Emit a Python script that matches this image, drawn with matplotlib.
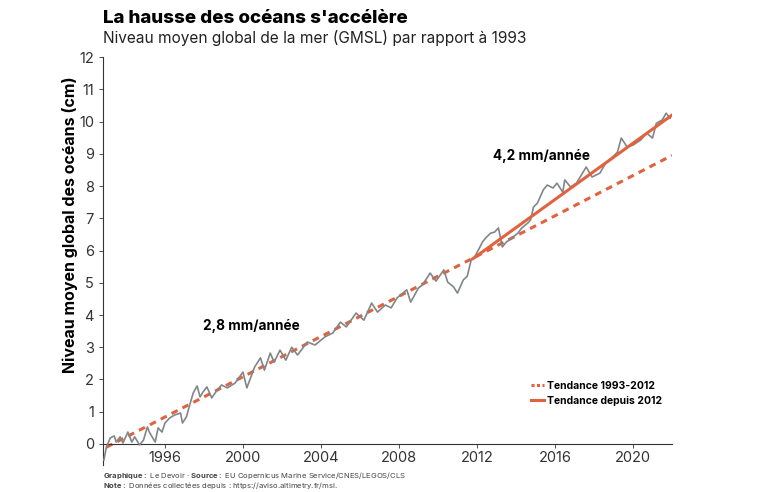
import matplotlib.pyplot as plt
from matplotlib.lines import Line2D

plt.rcParams['font.family'] = ['Inter', 'DejaVu Sans']
plt.rcParams['mathtext.fontset'] = 'custom'
plt.rcParams['mathtext.bf'] = 'Inter:bold'
plt.rcParams['mathtext.rm'] = 'Inter'

# GMSL relative to 1993 (cm)
years = [1992.87, 1993.0, 1993.2, 1993.4, 1993.5, 1993.7, 1993.85, 1994.1, 1994.3, 1994.45,
         1994.7, 1994.9, 1995.1, 1995.2, 1995.5, 1995.65, 1995.85, 1996.0, 1996.25, 1996.5,
         1996.8, 1996.9, 1997.1, 1997.3, 1997.45, 1997.65, 1997.8, 1997.95, 1998.15, 1998.4,
         1998.65, 1998.9, 1999.2, 1999.6, 2000.0, 2000.2, 2000.6, 2000.9, 2001.1, 2001.4,
         2001.6, 2001.9, 2002.2, 2002.5, 2002.8, 2003.3, 2003.7, 2004.2, 2004.6, 2005.0,
         2005.3, 2005.8, 2006.2, 2006.6, 2006.9, 2007.3, 2007.6, 2007.9, 2008.4, 2008.6,
         2009.0, 2009.2, 2009.6, 2009.9, 2010.3, 2010.5, 2010.8, 2011.0, 2011.3, 2011.5,
         2011.7, 2011.9, 2012.3, 2012.45, 2012.7, 2012.9, 2013.1, 2013.3, 2013.5, 2013.8,
         2014.1, 2014.3, 2014.6, 2014.75, 2014.9, 2015.1, 2015.4, 2015.6, 2015.9, 2016.1,
         2016.4, 2016.5, 2016.8, 2017.1, 2017.6, 2017.9, 2018.3, 2018.6, 2018.9, 2019.2,
         2019.4, 2019.7, 2020.0, 2020.4, 2020.7, 2021.0, 2021.2, 2021.5, 2021.7, 2021.9]
gmsl = [-0.50, -0.09, 0.19, 0.25, 0.06, 0.22, 0.03, 0.37, 0.06, 0.22,
        -0.03, 0.12, 0.53, 0.37, 0.06, 0.50, 0.37, 0.65, 0.81, 0.90,
        0.96, 0.65, 0.84, 1.27, 1.58, 1.80, 1.46, 1.61, 1.77, 1.43,
        1.65, 1.83, 1.74, 1.89, 2.23, 1.74, 2.39, 2.67, 2.29, 2.82,
        2.54, 2.91, 2.60, 3.00, 2.76, 3.16, 3.07, 3.32, 3.44, 3.78,
        3.63, 4.06, 3.84, 4.37, 4.09, 4.31, 4.22, 4.53, 4.78, 4.40,
        4.84, 4.93, 5.30, 5.05, 5.40, 5.02, 4.87, 4.68, 5.09, 5.20,
        5.70, 5.82, 6.28, 6.39, 6.54, 6.57, 6.70, 6.11, 6.26, 6.39,
        6.54, 6.70, 6.85, 6.95, 7.35, 7.47, 7.88, 8.03, 7.94, 8.09,
        7.81, 8.19, 7.97, 8.09, 8.59, 8.28, 8.40, 8.71, 8.87, 9.05,
        9.49, 9.21, 9.27, 9.43, 9.64, 9.49, 9.95, 10.05, 10.26, 10.10]

# trend lines (start / end)
trend_old_x = [1993.0, 2022.0]
trend_old_y = [-0.1, 8.95]
trend_new_x = [2011.8, 2022.0]
trend_new_y = [5.75, 10.2]

xticks = [1996, 2000, 2004, 2008, 2012, 2016, 2020]
yticks = list(range(0, 13))

orange = '#e1623e'
grey = '#80868a'

fig = plt.figure(figsize=(7.68, 4.92), dpi=100)
ax = fig.add_axes([0.134, 0.055, 0.741, 0.829])

ax.plot(trend_old_x, trend_old_y, color=orange, lw=2.2, dashes=(2.2, 1.8), zorder=2)
ax.plot(years, gmsl, color=grey, lw=1.2, zorder=3)
ax.plot(trend_new_x, trend_new_y, color=orange, lw=2.2, zorder=4)

ax.set_xlim(1992.82, 2022.0)
ax.set_ylim(-0.65, 12)
ax.set_xticks(xticks)
ax.set_yticks(yticks)
ax.spines['top'].set_visible(False)
ax.spines['right'].set_visible(False)
ax.spines['bottom'].set_position(('data', 0))
ax.spines['bottom'].set_color('#333333')
ax.spines['left'].set_color('#333333')
ax.spines['bottom'].set_linewidth(0.8)
ax.spines['left'].set_linewidth(0.8)
ax.tick_params(axis='both', labelsize=10.5, colors='#333333', length=3, width=0.6)
ax.tick_params(axis='x', pad=2)

ax.set_ylabel('Niveau moyen global des océans (cm)', fontsize=11.5, fontweight='bold')
ax.yaxis.set_label_coords(-0.043, 0.59)

ax.text(1997.95, 3.66, '2,8 mm/année', fontsize=9.8, fontweight='bold', va='center')
ax.text(2012.8, 8.93, '4,2 mm/année', fontsize=9.8, fontweight='bold', va='center')

handles = [Line2D([], [], color=orange, lw=2.2, dashes=(1, 0.8)),
           Line2D([], [], color=orange, lw=2.2)]
ax.legend(handles, ['Tendance 1993-2012', 'Tendance depuis 2012'],
          loc='upper left', bbox_to_anchor=(0.735, 0.23), frameon=False,
          prop={'size': 7.5, 'weight': 'bold'}, handlelength=1.3, handletextpad=0.3,
          labelspacing=0.5)

fig.text(0.134, 0.962, "La hausse des océans s'accélère", fontsize=13.5, fontweight='heavy', va='center')
fig.text(0.134, 0.922, 'Niveau moyen global de la mer (GMSL) par rapport à 1993', fontsize=11.1,
         va='center', color='#222222')

fig.text(0.134, 0.034, r'$\bf{Graphique:}$ Le Devoir · $\bf{Source:}$ EU Copernicus Marine Service/CNES/LEGOS/CLS',
         fontsize=5.5, color='#444444', va='center')
fig.text(0.134, 0.013, r'$\bf{Note:}$ Données collectées depuis : https://aviso.altimetry.fr/msl.',
         fontsize=5.5, color='#444444', va='center')

fig.savefig('out.png', dpi=100)
